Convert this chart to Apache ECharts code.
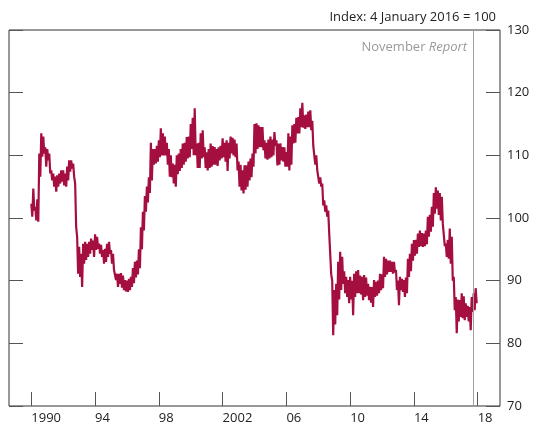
<!DOCTYPE html>
<html lang="en">
<head>
    <meta charset="UTF-8">
    <title>Sterling ERI</title>
    <script src="https://cdn.jsdelivr.net/npm/echarts/dist/echarts.min.js"></script>
    <style>
        body { margin: 0; background: #fff; }
        #chart { width: 533px; height: 430px; }
    </style>
</head>
<body>
    <div id="chart"></div>
    <script type="text/javascript">
        // readings every 1.5 months from Jan 1990: top and bottom of the daily band
        var startYear = 1990;
        var stepYears = 0.125;
        var eriHigh = [
            102.3, 104.7, 101.8, 103, 110.3, 113.5, 113, 111.3, 111, 110.3,
            107.6, 107.1, 106.6, 106.8, 107.1, 107.6, 107.6, 107.1, 108.2, 109.2,
            109.2, 108.7, 105.5, 97, 95.4, 94.3, 95.9, 96.2, 95.9, 96.2,
            96.7, 96.4, 97.4, 97, 95.9, 95.7, 94.9, 95.1, 95.9, 96.2,
            94.9, 94.3, 91.7, 91.1, 91.1, 91.2, 90.8, 90.1, 90, 90.3,
            90.6, 92, 93, 93.2, 95, 98.5, 101, 103.5, 105, 106.5,
            112, 111, 111, 111.5, 112.4, 114.3, 113.5, 113, 112, 111,
            110, 108.7, 108.5, 110, 110.3, 111, 111.9, 112, 112.9, 113,
            115, 116, 117.5, 111.9, 112, 113.5, 114, 111.3, 110.5, 111,
            111.9, 111.5, 111.3, 111, 111.3, 111.5, 112.7, 112, 112.4, 112,
            113, 112.8, 112.5, 111.9, 109, 108.5, 107.6, 108.4, 108.4, 109,
            109.5, 110.3, 115, 115.1, 114.8, 114.5, 114.5, 112.4, 112, 112.5,
            113, 112.5, 113.7, 112.4, 111.9, 111.9, 111.3, 111.3, 110.5, 113.5,
            113, 114.8, 115, 116, 116.1, 117.5, 118.4, 116.4, 116.5, 117,
            117.2, 115.5, 111.3, 110, 107.6, 106.5, 105.5, 102.8, 102, 101.2,
            97.5, 90, 88.5, 89.5, 93, 94.6, 93.8, 91.5, 90.6, 90.1,
            90.6, 90, 91.1, 91.5, 91.7, 90.8, 90.6, 90.9, 90.5, 89.5,
            89, 89, 90.1, 89.8, 90, 91.1, 91, 93.8, 93.5, 93.2,
            93.2, 93, 93, 91.7, 90, 90.6, 90.3, 90.1, 90.5, 93.5,
            94.3, 95.9, 96.5, 96.5, 97.5, 98, 97.6, 97.5, 98, 100.2,
            100.5, 101.8, 104, 104.9, 104.4, 104, 103.4, 99.1, 95.9, 96.5,
            98.3, 97, 90.6, 87.4, 87, 86.9, 88, 87.5, 86.4, 86,
            85.8, 87.4, 88, 88.8
        ];
        var eriLow = [
            100.2, 101.2, 99.6, 99.4, 106.6, 109.8, 110.3, 108.2, 109.2, 107.1,
            106, 105, 104.2, 105, 105.5, 105.8, 105.2, 105, 106, 107.4,
            107.9, 106.6, 98.6, 91.1, 90.6, 89, 92.7, 93.3, 93.8, 94.3,
            94.9, 93.8, 94.9, 95.1, 94.3, 93.8, 92.7, 93, 93.8, 94.3,
            92.7, 91.7, 90.1, 89, 89.5, 88.9, 88.5, 88.3, 88.2, 88.5,
            89, 89.6, 90.5, 91, 92, 95, 98, 101, 102.5, 104,
            106, 108.5, 108.7, 109, 109.7, 110, 110, 110, 108.5, 106.6,
            106.5, 105.5, 105, 107, 107.5, 108, 108.5, 109, 109.5, 109.7,
            111, 110, 110, 108, 108, 109.5, 109.7, 108, 107.6, 108,
            108.2, 108.5, 108.5, 108.3, 109.2, 109.5, 109.7, 109, 107.5, 109.5,
            110.3, 110, 109.7, 107.6, 105, 104.4, 103.9, 104.5, 105, 106,
            106.5, 108.2, 110.3, 111, 111.3, 111.3, 110.8, 109.5, 109.3, 109.5,
            109.7, 110, 111.5, 108.4, 108.5, 109.2, 109, 108.2, 108.2, 107.6,
            108.5, 111.9, 112, 113.5, 113.5, 114.5, 114.4, 114.2, 114.5, 114.5,
            114, 111.5, 108.5, 107.6, 105.5, 105, 102, 101, 100.2, 97.5,
            91, 81.3, 83, 84.5, 87, 88.5, 89.5, 88, 87.4, 86.4,
            87, 84.5, 87.4, 88, 88, 87.8, 86.9, 87.4, 87.6, 86.9,
            86.5, 85.8, 87.4, 87.6, 88, 88.5, 88.8, 90.6, 91, 91.4,
            91.4, 91.1, 91.3, 88.5, 86.1, 88.5, 88.2, 87.4, 88, 90.6,
            91.5, 93.2, 94, 94.3, 95.4, 95.5, 95.4, 95.5, 95.8, 97,
            97.8, 98.6, 100.7, 101.5, 100.5, 99.6, 99.1, 95.5, 93.8, 93.5,
            92.7, 90, 85.3, 81.6, 83.5, 84.2, 84, 83.7, 84.2, 83.5,
            82.1, 85, 85.3, 86.4
        ];
        var xTickYears = [1990, 1994, 1998, 2002, 2006, 2010, 2014, 2018];
        var xTickLabels = ['1990', '94', '98', '2002', '06', '10', '14', '18'];
        var reportYear = 2017.7;

        var font = 'Open Sans';
        var lineData = [];
        for (var i = 0; i < eriHigh.length; i++) {
            lineData.push([startYear + i * stepYears, eriHigh[i]]);
            lineData.push([startYear + (i + 0.5) * stepYears, eriLow[i]]);
        }

        var chart = echarts.init(document.getElementById('chart'));
        var option = {
            animation: false,
            grid: {
                left: 9,
                right: 33,
                top: 30,
                bottom: 24,
                show: true,
                borderColor: '#333',
                borderWidth: 1
            },
            graphic: [{
                type: 'text',
                x: 496, y: 17,
                style: {
                    text: 'Index: 4 January 2016 = 100',
                    align: 'right', verticalAlign: 'middle',
                    font: '13px "' + font + '"', fill: '#222'
                }
            }, {
                type: 'text',
                x: 467, y: 47,
                style: {
                    text: '{n|November }{r|Report}',
                    align: 'right', verticalAlign: 'middle',
                    fill: '#9a9a9a',
                    rich: {
                        n: { fontSize: 13, fontFamily: font, fill: '#9a9a9a' },
                        r: { fontSize: 13, fontFamily: font, fill: '#9a9a9a', fontStyle: 'italic' }
                    }
                }
            }],
            xAxis: {
                type: 'value',
                min: 1988.6,
                max: 2019.4,
                axisLine: { show: false },
                splitLine: { show: false },
                axisTick: {
                    show: true, inside: true, length: 14,
                    customValues: xTickYears,
                    lineStyle: { color: '#555' }
                },
                axisLabel: {
                    customValues: xTickYears,
                    formatter: function (v) {
                        return xTickLabels[xTickYears.indexOf(Math.round(v))];
                    },
                    align: 'left',
                    margin: 6,
                    color: '#222',
                    fontSize: 13,
                    fontFamily: font
                }
            },
            yAxis: [{
                type: 'value',
                position: 'right',
                min: 70, max: 130, interval: 10,
                axisLine: { show: false },
                splitLine: { show: false },
                axisTick: { show: true, inside: true, length: 14, lineStyle: { color: '#555' } },
                axisLabel: { margin: 7, color: '#222', fontSize: 13, fontFamily: font }
            }, {
                type: 'value',
                position: 'left',
                min: 70, max: 130, interval: 10,
                axisLine: { show: false },
                splitLine: { show: false },
                axisTick: { show: true, inside: true, length: 14, lineStyle: { color: '#555' } },
                axisLabel: { show: false }
            }],
            series: [{
                name: 'Sterling ERI',
                type: 'line',
                data: lineData,
                showSymbol: false,
                lineStyle: { color: '#a50f40', width: 2.2 },
                markLine: {
                    silent: true,
                    symbol: 'none',
                    label: { show: false },
                    lineStyle: { color: '#a0a0a0', width: 1, type: 'solid' },
                    data: [{ xAxis: reportYear }]
                }
            }]
        };
        chart.setOption(option);
    </script>
</body>
</html>
